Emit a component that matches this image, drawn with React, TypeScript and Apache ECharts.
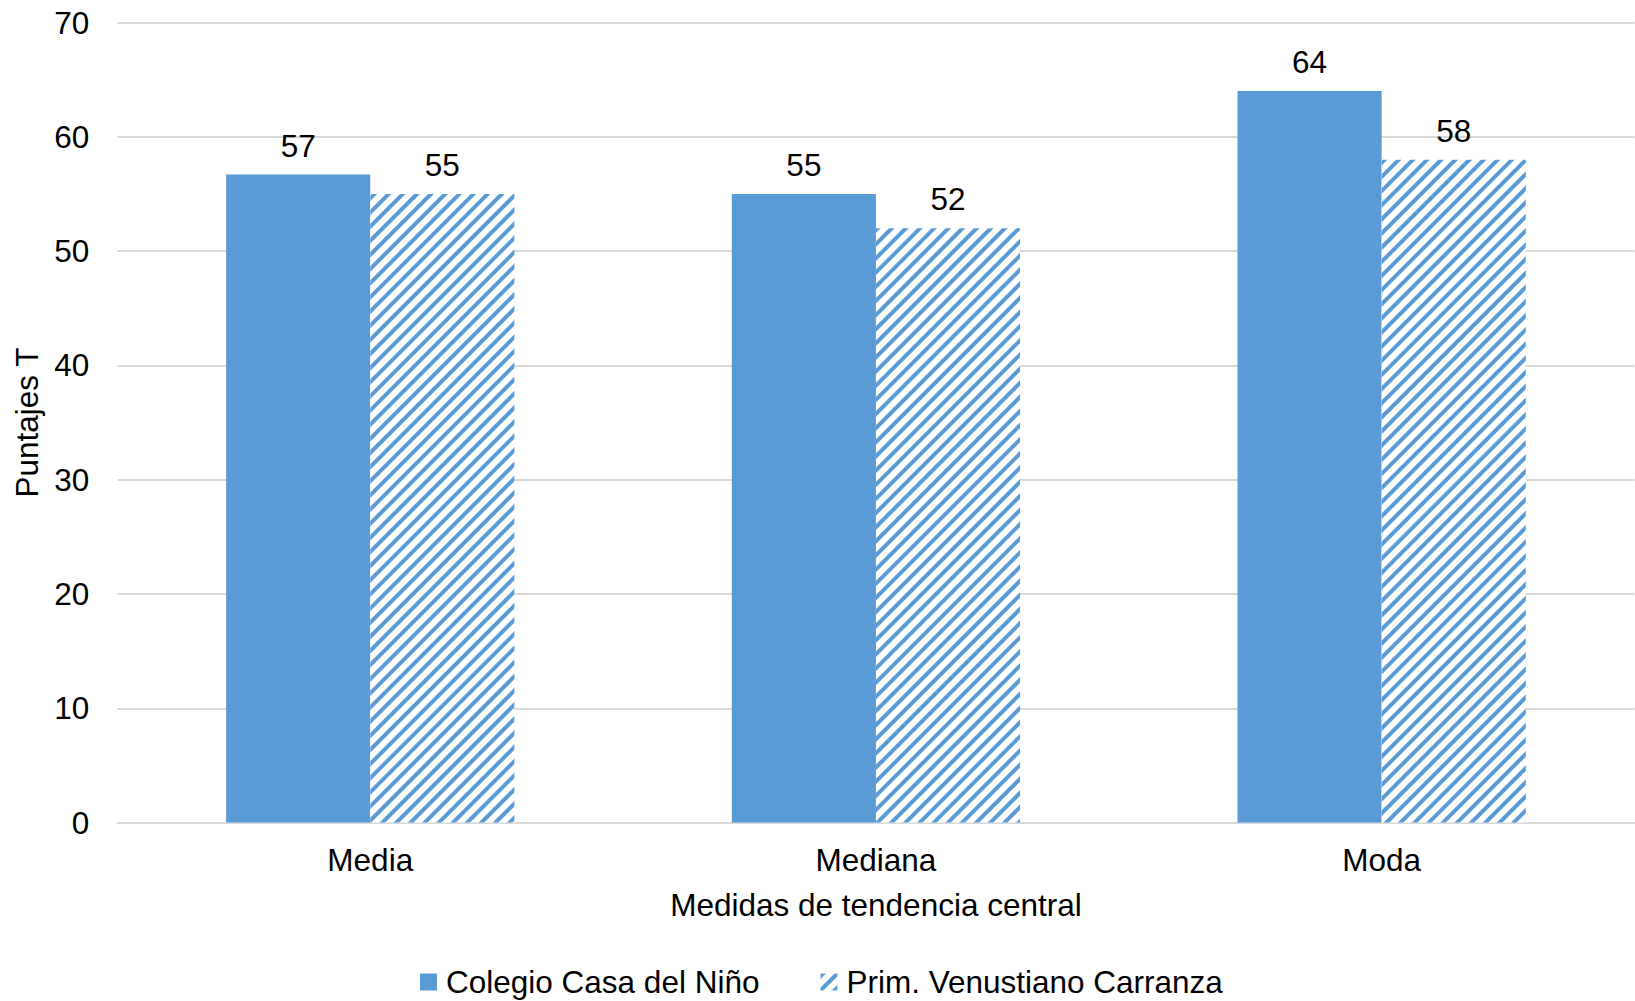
import React, { useEffect, useRef } from "react";
import * as echarts from "echarts";

const categories = ["Media", "Mediana", "Moda"];
const seriesNames = ["Colegio Casa del Niño", "Prim. Venustiano Carranza"];
const colegioValues = [56.7, 55, 64];
const primValues = [55, 52, 58];
const yTicks = { min: 0, max: 70, interval: 10 };

const BLUE = "#5B9BD5";
const FONT = "'Liberation Sans', Arial, sans-serif";
const FS = 31.5;

export default function App() {
  const ref = useRef<HTMLDivElement>(null);
  useEffect(() => {
    document.body.style.margin = "0";
    const chart = echarts.init(ref.current!, undefined, { renderer: "svg" });
    const labelStyle = {
      show: true,
      position: "top" as const,
      distance: 13,
      color: "#000",
      fontSize: FS,
      fontFamily: FONT,
      formatter: (p: any) => String(Math.round(p.value)),
    };
    chart.setOption({
      animation: false,
      backgroundColor: "#fff",
      textStyle: { fontFamily: FONT, color: "#000" },
      grid: { left: 117.4, right: 0.5, top: 22.5, bottom: 178.4, containLabel: false },
      legend: {
        left: 415,
        top: 961,
        itemWidth: 17,
        itemHeight: 17,
        itemGap: 61,
        textStyle: { fontSize: FS, fontFamily: FONT, color: "#000", padding: [0, 0, 0, 4], lineHeight: 32 },
        data: [
          { name: seriesNames[0], icon: "rect" },
          { name: seriesNames[1], icon: "rect" },
        ],
      },
      xAxis: {
        type: "category",
        data: categories,
        name: "Medidas de tendencia central",
        nameLocation: "middle",
        nameGap: 66,
        nameTextStyle: { fontSize: FS, fontFamily: FONT, color: "#000" },
        axisLine: { show: true, lineStyle: { color: "#D9D9D9", width: 2 } },
        axisTick: { show: false },
        axisLabel: { fontSize: FS, fontFamily: FONT, color: "#000", margin: 21 },
      },
      yAxis: {
        type: "value",
        min: yTicks.min,
        max: yTicks.max,
        interval: yTicks.interval,
        name: "Puntajes T",
        nameLocation: "middle",
        nameGap: 74,
        nameRotate: 90,
        nameTextStyle: { fontSize: FS, fontFamily: FONT, color: "#000" },
        axisLine: { show: false },
        axisTick: { show: false },
        axisLabel: { fontSize: FS, fontFamily: FONT, color: "#000", margin: 28 },
        splitLine: { lineStyle: { color: "#D9D9D9", width: 2 } },
      },
      series: [
        {
          name: seriesNames[0],
          type: "bar",
          data: colegioValues,
          barGap: "0%",
          barCategoryGap: "43%",
          itemStyle: { color: BLUE },
          label: labelStyle,
        },
        {
          name: seriesNames[1],
          type: "bar",
          data: primValues,
          barGap: "0%",
          barCategoryGap: "43%",
          itemStyle: {
            color: "#fff",
            decal: {
              symbol: "rect",
              symbolSize: 1,
              color: BLUE,
              backgroundColor: "#fff",
              dashArrayX: [1, 0],
              dashArrayY: [3.6, 5.6],
              rotation: -Math.PI / 4,
            },
          },
          label: labelStyle,
        },
      ],
    });
    return () => chart.dispose();
  }, []);
  return <div ref={ref} style={{ width: 1635, height: 1001 }} />;
}
